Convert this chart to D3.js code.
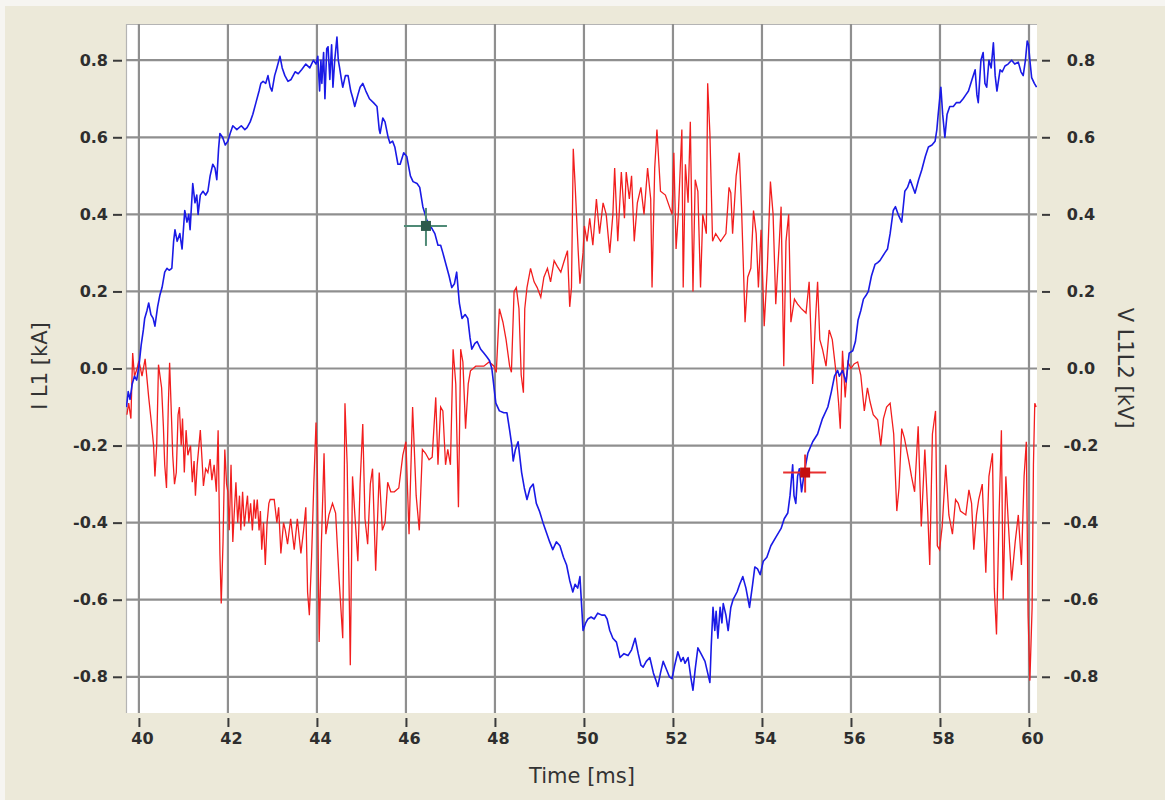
<!DOCTYPE html>
<html>
<head>
<meta charset="utf-8">
<script src="https://cdn.jsdelivr.net/npm/d3@7"></script>
<style>
  html, body { margin: 0; padding: 0; background: #f6f5f1; }
  svg { display: block; }
</style>
</head>
<body>
<svg id="chart" width="1165" height="800"></svg>
<script>
// Time axis ticks [ms] and level ticks shared by both vertical axes
const timeTicks = [40, 42, 44, 46, 48, 50, 52, 54, 56, 58, 60];
const levelTicks = [-0.8, -0.6, -0.4, -0.2, 0.0, 0.2, 0.4, 0.6, 0.8];

// Phase current I L1 [kA]: [time ms, value]
const currentSamples = [
  [39.72,-0.10],[39.76,-0.06],[39.80,-0.08],[39.85,-0.04],[39.90,-0.02],[39.95,-0.03],[40.00,0.005],
  [40.05,0.06],[40.10,0.10],[40.13,0.13],[40.18,0.15],[40.22,0.17],[40.27,0.14],[40.32,0.13],[40.36,0.11],
  [40.42,0.16],[40.47,0.19],[40.52,0.21],[40.58,0.25],[40.63,0.26],[40.68,0.255],[40.74,0.26],[40.78,0.33],
  [40.81,0.36],[40.86,0.33],[40.92,0.35],[40.97,0.31],[41.03,0.41],[41.08,0.38],[41.12,0.40],[41.15,0.36],
  [41.21,0.48],[41.26,0.43],[41.30,0.45],[41.33,0.40],[41.38,0.45],[41.44,0.46],[41.50,0.45],[41.55,0.46],
  [41.60,0.50],[41.66,0.53],[41.71,0.52],[41.75,0.49],[41.79,0.57],[41.82,0.61],[41.88,0.60],[41.94,0.58],
  [42.00,0.59],[42.05,0.61],[42.11,0.63],[42.20,0.62],[42.30,0.63],[42.38,0.62],[42.43,0.625],[42.50,0.64],
  [42.56,0.66],[42.63,0.69],[42.70,0.72],[42.74,0.74],[42.79,0.745],[42.85,0.74],[42.90,0.76],[42.95,0.73],
  [42.99,0.72],[43.05,0.76],[43.10,0.78],[43.17,0.81],[43.22,0.78],[43.28,0.76],[43.35,0.745],[43.42,0.75],
  [43.51,0.77],[43.58,0.765],[43.66,0.776],[43.75,0.79],[43.84,0.78],[43.92,0.80],[43.98,0.79],[44.02,0.81],
  [44.06,0.72],[44.09,0.80],[44.11,0.74],[44.15,0.82],[44.18,0.70],[44.22,0.83],[44.25,0.835],[44.29,0.75],
  [44.33,0.84],[44.36,0.73],[44.40,0.80],[44.45,0.86],[44.48,0.80],[44.51,0.78],[44.55,0.75],[44.58,0.73],
  [44.64,0.76],[44.70,0.76],[44.76,0.72],[44.81,0.70],[44.85,0.68],[44.92,0.71],[44.97,0.73],[45.03,0.74],
  [45.10,0.72],[45.18,0.70],[45.27,0.69],[45.35,0.68],[45.40,0.62],[45.42,0.61],[45.48,0.65],[45.53,0.64],
  [45.60,0.60],[45.64,0.585],[45.70,0.59],[45.75,0.575],[45.82,0.53],[45.87,0.53],[45.95,0.56],[46.02,0.55],
  [46.10,0.50],[46.16,0.485],[46.25,0.48],[46.31,0.47],[46.38,0.42],[46.47,0.385],[46.55,0.37],[46.65,0.35],
  [46.72,0.32],[46.78,0.32],[46.83,0.30],[46.90,0.27],[46.97,0.24],[47.03,0.21],[47.09,0.22],[47.14,0.25],
  [47.20,0.17],[47.26,0.13],[47.33,0.14],[47.39,0.13],[47.44,0.08],[47.48,0.05],[47.55,0.065],[47.60,0.07],
  [47.68,0.05],[47.75,0.04],[47.82,0.03],[47.88,0.02],[47.93,0.00],[47.97,-0.04],[48.02,-0.09],[48.10,-0.11],
  [48.20,-0.115],[48.27,-0.115],[48.33,-0.16],[48.38,-0.20],[48.41,-0.24],[48.46,-0.21],[48.52,-0.19],[48.60,-0.27],
  [48.66,-0.31],[48.72,-0.34],[48.79,-0.31],[48.86,-0.30],[48.93,-0.35],[49.00,-0.37],[49.08,-0.40],[49.17,-0.43],
  [49.23,-0.45],[49.30,-0.47],[49.38,-0.45],[49.46,-0.46],[49.54,-0.49],[49.61,-0.51],[49.68,-0.55],[49.75,-0.58],
  [49.80,-0.56],[49.86,-0.57],[49.91,-0.54],[49.95,-0.62],[49.98,-0.68],[50.04,-0.66],[50.09,-0.65],[50.16,-0.645],
  [50.23,-0.65],[50.31,-0.635],[50.40,-0.64],[50.47,-0.64],[50.52,-0.65],[50.58,-0.68],[50.65,-0.70],[50.73,-0.71],
  [50.81,-0.75],[50.90,-0.74],[50.99,-0.745],[51.07,-0.73],[51.15,-0.70],[51.22,-0.74],[51.28,-0.77],[51.33,-0.775],
  [51.40,-0.76],[51.48,-0.75],[51.56,-0.79],[51.62,-0.81],[51.66,-0.825],[51.72,-0.79],[51.78,-0.76],[51.85,-0.78],
  [51.92,-0.80],[51.98,-0.805],[52.04,-0.77],[52.11,-0.735],[52.18,-0.76],[52.23,-0.75],[52.27,-0.765],[52.34,-0.75],
  [52.40,-0.80],[52.45,-0.835],[52.50,-0.78],[52.56,-0.725],[52.63,-0.74],[52.72,-0.76],[52.78,-0.79],[52.83,-0.815],
  [52.86,-0.72],[52.90,-0.62],[52.94,-0.68],[52.97,-0.63],[53.01,-0.70],[53.06,-0.62],[53.10,-0.66],[53.13,-0.61],
  [53.19,-0.64],[53.24,-0.68],[53.30,-0.62],[53.35,-0.60],[53.44,-0.58],[53.50,-0.56],[53.57,-0.54],[53.64,-0.57],
  [53.72,-0.62],[53.79,-0.56],[53.84,-0.515],[53.90,-0.52],[53.96,-0.535],[54.03,-0.50],[54.11,-0.49],[54.20,-0.46],
  [54.30,-0.44],[54.43,-0.415],[54.50,-0.39],[54.58,-0.375],[54.63,-0.33],[54.69,-0.25],[54.72,-0.33],[54.76,-0.35],
  [54.80,-0.28],[54.84,-0.26],[54.89,-0.32],[54.95,-0.27],[55.03,-0.22],[55.14,-0.19],[55.25,-0.17],[55.36,-0.13],
  [55.48,-0.10],[55.56,-0.06],[55.63,-0.02],[55.70,-0.005],[55.74,-0.02],[55.81,-0.005],[55.89,-0.035],[55.96,0.04],
  [56.04,0.046],[56.10,0.07],[56.16,0.126],[56.22,0.15],[56.28,0.18],[56.34,0.19],[56.39,0.20],[56.46,0.24],
  [56.54,0.27],[56.60,0.275],[56.65,0.28],[56.76,0.30],[56.82,0.31],[56.88,0.35],[56.95,0.41],[57.00,0.42],
  [57.06,0.40],[57.14,0.38],[57.21,0.46],[57.27,0.47],[57.33,0.49],[57.44,0.455],[57.52,0.49],[57.59,0.515],
  [57.67,0.55],[57.74,0.575],[57.82,0.58],[57.89,0.59],[57.93,0.62],[57.96,0.66],[58.02,0.73],[58.06,0.66],
  [58.11,0.60],[58.16,0.66],[58.22,0.68],[58.30,0.68],[58.37,0.69],[58.45,0.69],[58.52,0.70],[58.58,0.71],
  [58.64,0.72],[58.72,0.75],[58.79,0.775],[58.83,0.71],[58.86,0.69],[58.92,0.80],[58.97,0.82],[59.01,0.74],
  [59.05,0.73],[59.10,0.80],[59.15,0.78],[59.20,0.845],[59.24,0.76],[59.28,0.72],[59.35,0.775],[59.40,0.77],
  [59.46,0.785],[59.53,0.79],[59.61,0.80],[59.68,0.79],[59.76,0.795],[59.82,0.77],[59.87,0.76],[59.92,0.80],
  [59.96,0.85],[59.99,0.84],[60.02,0.80],[60.06,0.755],[60.12,0.74],[60.17,0.73]
];

// Line voltage V L1L2 [kV]: [time ms, value]
const voltageSamples = [
  [39.73,-0.12],[39.77,-0.09],[39.82,-0.13],[39.86,0.04],[39.90,-0.02],[39.96,0.00],[40.00,0.02],[40.07,-0.02],
  [40.14,0.025],[40.22,-0.075],[40.28,-0.14],[40.33,-0.20],[40.36,-0.28],[40.40,-0.20],[40.44,0.01],[40.51,-0.05],
  [40.55,-0.15],[40.58,-0.25],[40.62,-0.31],[40.66,-0.10],[40.69,0.015],[40.73,-0.12],[40.76,-0.225],[40.80,-0.30],
  [40.84,-0.27],[40.88,-0.12],[40.91,-0.10],[40.95,-0.20],[40.98,-0.13],[41.02,-0.27],[41.06,-0.16],[41.10,-0.225],
  [41.16,-0.20],[41.20,-0.295],[41.24,-0.24],[41.27,-0.33],[41.31,-0.25],[41.38,-0.16],[41.42,-0.24],[41.45,-0.305],
  [41.50,-0.26],[41.55,-0.27],[41.60,-0.235],[41.64,-0.29],[41.69,-0.25],[41.74,-0.32],[41.78,-0.16],[41.82,-0.48],
  [41.85,-0.61],[41.89,-0.45],[41.93,-0.21],[41.97,-0.30],[42.00,-0.32],[42.03,-0.42],[42.07,-0.25],[42.11,-0.45],
  [42.14,-0.38],[42.18,-0.295],[42.22,-0.40],[42.26,-0.33],[42.29,-0.42],[42.33,-0.32],[42.37,-0.41],[42.41,-0.36],
  [42.44,-0.33],[42.47,-0.40],[42.51,-0.35],[42.55,-0.42],[42.59,-0.34],[42.62,-0.39],[42.66,-0.34],[42.70,-0.42],
  [42.73,-0.37],[42.76,-0.47],[42.80,-0.40],[42.84,-0.51],[42.88,-0.40],[42.92,-0.35],[42.95,-0.34],[43.04,-0.34],
  [43.10,-0.40],[43.14,-0.36],[43.19,-0.48],[43.25,-0.40],[43.29,-0.42],[43.34,-0.456],[43.41,-0.39],[43.49,-0.47],
  [43.56,-0.39],[43.64,-0.48],[43.70,-0.42],[43.75,-0.36],[43.79,-0.58],[43.83,-0.64],[43.88,-0.49],[43.93,-0.30],
  [43.98,-0.14],[44.01,-0.27],[44.05,-0.71],[44.10,-0.456],[44.16,-0.22],[44.20,-0.43],[44.27,-0.38],[44.35,-0.35],
  [44.42,-0.375],[44.50,-0.55],[44.58,-0.70],[44.63,-0.09],[44.68,-0.25],[44.75,-0.77],[44.80,-0.28],[44.85,-0.375],
  [44.92,-0.50],[44.97,-0.30],[45.03,-0.144],[45.08,-0.39],[45.14,-0.456],[45.20,-0.30],[45.25,-0.26],[45.32,-0.525],
  [45.40,-0.27],[45.47,-0.42],[45.53,-0.40],[45.59,-0.295],[45.66,-0.32],[45.74,-0.32],[45.84,-0.31],[45.93,-0.225],
  [46.00,-0.19],[46.07,-0.43],[46.15,-0.10],[46.23,-0.33],[46.30,-0.42],[46.37,-0.21],[46.44,-0.22],[46.52,-0.237],
  [46.59,-0.23],[46.67,-0.075],[46.72,-0.25],[46.78,-0.10],[46.83,-0.11],[46.89,-0.25],[46.94,-0.21],[47.00,-0.25],
  [47.06,0.05],[47.12,-0.04],[47.18,-0.36],[47.23,0.05],[47.28,0.017],[47.34,-0.156],[47.40,-0.04],[47.45,-0.006],
  [47.57,0.006],[47.75,0.006],[47.87,0.017],[47.98,0.006],[48.03,-0.01],[48.10,0.155],[48.18,0.12],[48.25,0.075],
  [48.33,0.006],[48.37,-0.01],[48.43,0.20],[48.48,0.21],[48.54,0.155],[48.59,-0.017],[48.64,-0.063],[48.67,0.155],
  [48.72,0.21],[48.80,0.26],[48.88,0.225],[48.95,0.21],[49.03,0.185],[49.10,0.237],[49.18,0.26],[49.25,0.225],
  [49.33,0.28],[49.40,0.265],[49.48,0.25],[49.55,0.277],[49.63,0.306],[49.68,0.16],[49.72,0.21],[49.76,0.57],
  [49.80,0.48],[49.87,0.306],[49.91,0.22],[49.98,0.30],[50.01,0.37],[50.07,0.33],[50.13,0.39],[50.20,0.32],
  [50.28,0.44],[50.35,0.35],[50.43,0.43],[50.50,0.40],[50.58,0.30],[50.65,0.40],[50.69,0.52],[50.76,0.33],
  [50.84,0.51],[50.91,0.39],[50.95,0.51],[51.02,0.44],[51.07,0.50],[51.13,0.33],[51.20,0.43],[51.28,0.47],
  [51.35,0.40],[51.43,0.52],[51.50,0.44],[51.53,0.21],[51.59,0.52],[51.64,0.62],[51.72,0.46],[51.83,0.45],
  [51.98,0.40],[52.02,0.56],[52.07,0.31],[52.12,0.40],[52.20,0.62],[52.23,0.21],[52.28,0.53],[52.34,0.43],
  [52.39,0.64],[52.45,0.20],[52.50,0.49],[52.56,0.46],[52.62,0.21],[52.67,0.40],[52.75,0.35],[52.78,0.74],
  [52.83,0.61],[52.89,0.33],[52.96,0.35],[53.07,0.33],[53.19,0.35],[53.26,0.47],[53.30,0.456],[53.34,0.35],
  [53.42,0.50],[53.49,0.56],[53.54,0.42],[53.59,0.237],[53.62,0.12],[53.68,0.237],[53.75,0.26],[53.81,0.41],
  [53.87,0.35],[53.92,0.21],[53.98,0.36],[54.05,0.11],[54.12,0.26],[54.19,0.485],[54.25,0.40],[54.31,0.167],
  [54.39,0.33],[54.43,0.42],[54.49,0.006],[54.54,0.33],[54.60,0.40],[54.65,0.12],[54.73,0.18],[54.80,0.167],
  [54.88,0.156],[54.99,0.144],[55.06,0.225],[55.14,-0.04],[55.20,0.12],[55.25,0.225],[55.30,0.075],[55.36,0.05],
  [55.44,0.006],[55.51,0.10],[55.58,0.075],[55.66,-0.006],[55.72,-0.087],[55.76,-0.156],[55.81,0.046],[55.87,-0.075],
  [55.93,0.017],[56.00,0.00],[56.07,0.012],[56.15,0.017],[56.22,-0.017],[56.30,-0.11],[56.37,-0.05],[56.43,-0.087],
  [56.50,-0.12],[56.60,-0.133],[56.67,-0.20],[56.73,-0.13],[56.80,-0.10],[56.88,-0.09],[56.96,-0.17],[57.03,-0.37],
  [57.08,-0.31],[57.14,-0.156],[57.20,-0.18],[57.30,-0.24],[57.36,-0.28],[57.43,-0.32],[57.51,-0.15],[57.58,-0.41],
  [57.66,-0.21],[57.72,-0.36],[57.77,-0.51],[57.83,-0.17],[57.90,-0.11],[57.94,-0.46],[57.99,-0.47],[58.05,-0.41],
  [58.13,-0.25],[58.20,-0.38],[58.28,-0.43],[58.35,-0.34],[58.41,-0.35],[58.46,-0.37],[58.52,-0.375],[58.58,-0.38],
  [58.65,-0.315],[58.71,-0.35],[58.76,-0.47],[58.82,-0.38],[58.87,-0.34],[58.95,-0.30],[59.03,-0.53],[59.10,-0.28],
  [59.18,-0.22],[59.22,-0.57],[59.27,-0.69],[59.33,-0.37],[59.38,-0.16],[59.42,-0.60],[59.48,-0.28],[59.54,-0.41],
  [59.61,-0.55],[59.69,-0.45],[59.76,-0.38],[59.83,-0.51],[59.89,-0.28],[59.94,-0.19],[59.98,-0.64],[60.02,-0.81],
  [60.07,-0.62],[60.10,-0.25],[60.13,-0.09],[60.16,-0.10]
];

// Measurement cursors: [time ms, value]
const cursorA = [46.45, 0.37];
const cursorB = [54.97, -0.27];

const svg = d3.select("#chart");
const W = 1165, H = 800;
const plot = { left: 126, top: 24, right: 1037, bottom: 713 };

// Window panel
svg.append("rect").attr("x", 5).attr("y", 6).attr("width", W - 5).attr("height", H - 6)
  .attr("fill", "#ece9d9");

const x = d3.scaleLinear().domain([39.71, 60.18]).range([plot.left, plot.right]);
const y = d3.scaleLinear().domain([-0.894, 0.894]).range([plot.bottom, plot.top]);

// Plot background
svg.append("rect")
  .attr("x", plot.left).attr("y", plot.top)
  .attr("width", plot.right - plot.left).attr("height", plot.bottom - plot.top)
  .attr("fill", "#ffffff");

// Sunken edge on left and top
svg.append("path")
  .attr("d", `M${plot.left + 0.5},${plot.bottom}V${plot.top + 0.5}H${plot.right}`)
  .attr("fill", "none").attr("stroke", "#b4b4b4").attr("stroke-width", 1.2);

svg.append("defs").append("clipPath").attr("id", "plotClip")
  .append("rect")
  .attr("x", plot.left).attr("y", plot.top)
  .attr("width", plot.right - plot.left).attr("height", plot.bottom - plot.top);

// Grid
const grid = svg.append("g").attr("stroke", "#8f8f8f").attr("stroke-width", 2.2);
grid.selectAll("line.v").data(timeTicks).join("line")
  .attr("class", "v")
  .attr("x1", d => x(d)).attr("x2", d => x(d))
  .attr("y1", plot.top).attr("y2", plot.bottom);
grid.selectAll("line.h").data(levelTicks).join("line")
  .attr("class", "h")
  .attr("x1", plot.left).attr("x2", plot.right)
  .attr("y1", d => y(d)).attr("y2", d => y(d));

// Axes: one decimal, plain hyphen for negatives
const fmt = d => d3.format(".1f")(d).replace("\u2212", "-");
const tickFont = "'DejaVu Sans', Verdana, sans-serif";

function styleAxis(g) {
  g.select(".domain").remove();
  g.selectAll(".tick line").attr("stroke", "#3a3a3a").attr("stroke-width", 2);
  g.selectAll(".tick text")
    .attr("fill", "#2e2e2e")
    .style("font-family", tickFont)
    .style("font-size", "16px")
    .style("font-weight", "bold");
}

svg.append("g")
  .attr("transform", `translate(${plot.left - 4},0)`)
  .call(d3.axisLeft(y).tickValues(levelTicks).tickFormat(fmt).tickSize(9).tickPadding(5))
  .call(styleAxis);

const rightAxis = svg.append("g")
  .attr("transform", `translate(${plot.right + 5},0)`)
  .call(d3.axisRight(y).tickValues(levelTicks).tickFormat(fmt).tickSize(8).tickPadding(6))
  .call(styleAxis);
rightAxis.selectAll(".tick text").attr("text-anchor", "middle").attr("x", 39);

svg.append("g")
  .attr("transform", `translate(0,${plot.bottom + 5})`)
  .call(d3.axisBottom(x).tickValues(timeTicks).tickFormat(d3.format("d")).tickSize(9).tickPadding(6))
  .call(styleAxis)
  .selectAll(".tick text").attr("dx", 3);

// Axis titles
const titleStyle = t => t.attr("fill", "#333333")
  .style("font-family", tickFont).style("font-size", "21px");

svg.append("text")
  .attr("transform", "translate(47,366) rotate(-90)")
  .attr("text-anchor", "middle")
  .text("I L1 [kA]").call(titleStyle);

svg.append("text")
  .attr("transform", "translate(1118,368) rotate(90)")
  .attr("text-anchor", "middle")
  .text("V L1L2 [kV]").call(titleStyle);

svg.append("text")
  .attr("x", 582).attr("y", 783)
  .attr("text-anchor", "middle")
  .text("Time [ms]").call(titleStyle);

// Traces
const line = d3.line().x(d => x(d[0])).y(d => y(d[1]));
const traces = svg.append("g").attr("clip-path", "url(#plotClip)");

traces.append("path")
  .datum(voltageSamples)
  .attr("d", line)
  .attr("fill", "none")
  .attr("stroke", "#f21e1e")
  .attr("stroke-width", 1.3)
  .attr("stroke-linejoin", "miter");

traces.append("path")
  .datum(currentSamples)
  .attr("d", line)
  .attr("fill", "none")
  .attr("stroke", "#1a1ae6")
  .attr("stroke-width", 1.6)
  .attr("stroke-linejoin", "round");

// Cursors
function drawCursor(c, lineColor, boxColor) {
  const cx = x(c[0]), cy = y(c[1]);
  const g = svg.append("g");
  g.append("line").attr("x1", cx - 22).attr("x2", cx + 21).attr("y1", cy).attr("y2", cy)
    .attr("stroke", lineColor).attr("stroke-width", 2);
  g.append("line").attr("x1", cx).attr("x2", cx).attr("y1", cy - 18).attr("y2", cy + 20)
    .attr("stroke", lineColor).attr("stroke-width", 2);
  g.append("rect").attr("x", cx - 5).attr("y", cy - 5).attr("width", 10).attr("height", 10)
    .attr("fill", boxColor);
}
drawCursor(cursorA, "#4f8a76", "#2c5a4c");
drawCursor(cursorB, "#e83030", "#c40f0f");
</script>
</body>
</html>
